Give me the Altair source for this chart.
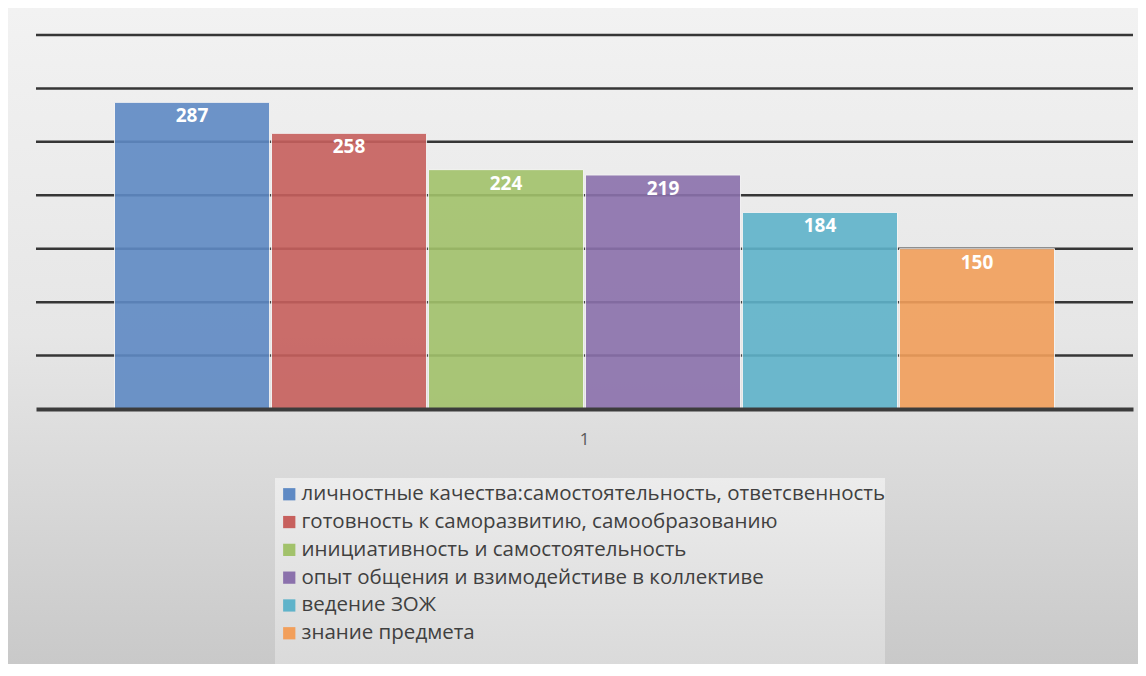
import altair as alt
import pandas as pd

series = [
    "личностные качества:самостоятельность, ответсвенность",
    "готовность к саморазвитию, самообразованию",
    "инициативность и самостоятельность",
    "опыт общения и взимодейстиве в коллективе",
    "ведение ЗОЖ",
    "знание предмета",
]
values = [287, 258, 224, 219, 184, 150]
colors = ["#5f8ac4", "#c7605d", "#a2c26b", "#8b71ac", "#5fb3ca", "#f29f5b"]
category = "1"
grid_values = [50, 100, 150, 200, 250, 300, 350]

df = pd.DataFrame({"cat": [category] * len(series), "series": series, "value": values})
gdf = pd.DataFrame({"g": grid_values})

W, H = 1097, 374
PL, PT, PR, PB = 28, 27, 5, 255

bg = alt.Chart(pd.DataFrame({"a": [0]})).mark_rect(
    color=alt.LinearGradient(
        gradient="linear", x1=0, y1=0, x2=0, y2=1,
        stops=[alt.GradientStop(color="#f2f2f2", offset=0),
               alt.GradientStop(color="#e6e6e6", offset=0.5),
               alt.GradientStop(color="#c9c9c9", offset=1)],
    )
).encode(
    x=alt.value(-PL), x2=alt.value(W + PR), y=alt.value(-PT), y2=alt.value(H + PB)
)

legend_box = alt.Chart(pd.DataFrame({"a": [0]})).mark_rect(
    color=alt.LinearGradient(
        gradient="linear", x1=0, y1=0, x2=0, y2=1,
        stops=[alt.GradientStop(color="#ececec", offset=0),
               alt.GradientStop(color="#dadada", offset=1)],
    )
).encode(
    x=alt.value(239), x2=alt.value(849), y=alt.value(443), y2=alt.value(H + PB)
)

yscale = alt.Scale(domain=[0, 350], nice=False)

grid = alt.Chart(gdf).mark_rule(color="#363636", strokeWidth=2.5).encode(
    y=alt.Y("g:Q", scale=yscale, axis=None)
)

xenc = alt.X("cat:N", title=None,
             scale=alt.Scale(paddingOuter=0.0835, paddingInner=0),
             axis=alt.Axis(labelAngle=0, ticks=False, labelFontSize=17,
                           labelColor="#595959", labelFont="Open Sans",
                           labelPadding=22, domainColor="#3c3c3c", domainWidth=4,
                           grid=False, zindex=1))
xoff = alt.XOffset("series:N", sort=series,
                   scale=alt.Scale(paddingInner=0.012, paddingOuter=0))
yenc = alt.Y("value:Q", title=None, scale=yscale, axis=None)

bars = alt.Chart(df).mark_bar(opacity=0.9, stroke="#f4f4f4", strokeWidth=1).encode(
    x=xenc, xOffset=xoff, y=yenc,
    color=alt.Color("series:N", sort=series, title=None,
                    scale=alt.Scale(domain=series, range=colors),
                    legend=alt.Legend(orient="none", legendX=237, legendY=443,
                                      direction="vertical", symbolType="square",
                                      symbolSize=150, symbolStrokeWidth=0,
                                      symbolOpacity=1,
                                      labelFont="Open Sans", labelFontSize=20.5,
                                      labelColor="#404040", labelLimit=800,
                                      rowPadding=6.8, padding=6, labelOffset=2,
                                      zindex=1)),
)

labels = alt.Chart(df).mark_text(
    baseline="top", dy=5, color="white", font="Open Sans", fontWeight="bold", fontSize=19
).encode(x=xenc, xOffset=xoff, y=alt.Y("value:Q"), text="value:Q")

chart = alt.layer(bg, legend_box, grid, bars, labels).properties(
    width=W, height=H,
    autosize=alt.AutoSizeParams(type="none"),
    padding={"left": PL, "top": PT, "right": PR, "bottom": PB},
    background="white",
).configure_view(stroke=None)

chart.save("out.html", embed_options={"renderer": "svg", "actions": False})
